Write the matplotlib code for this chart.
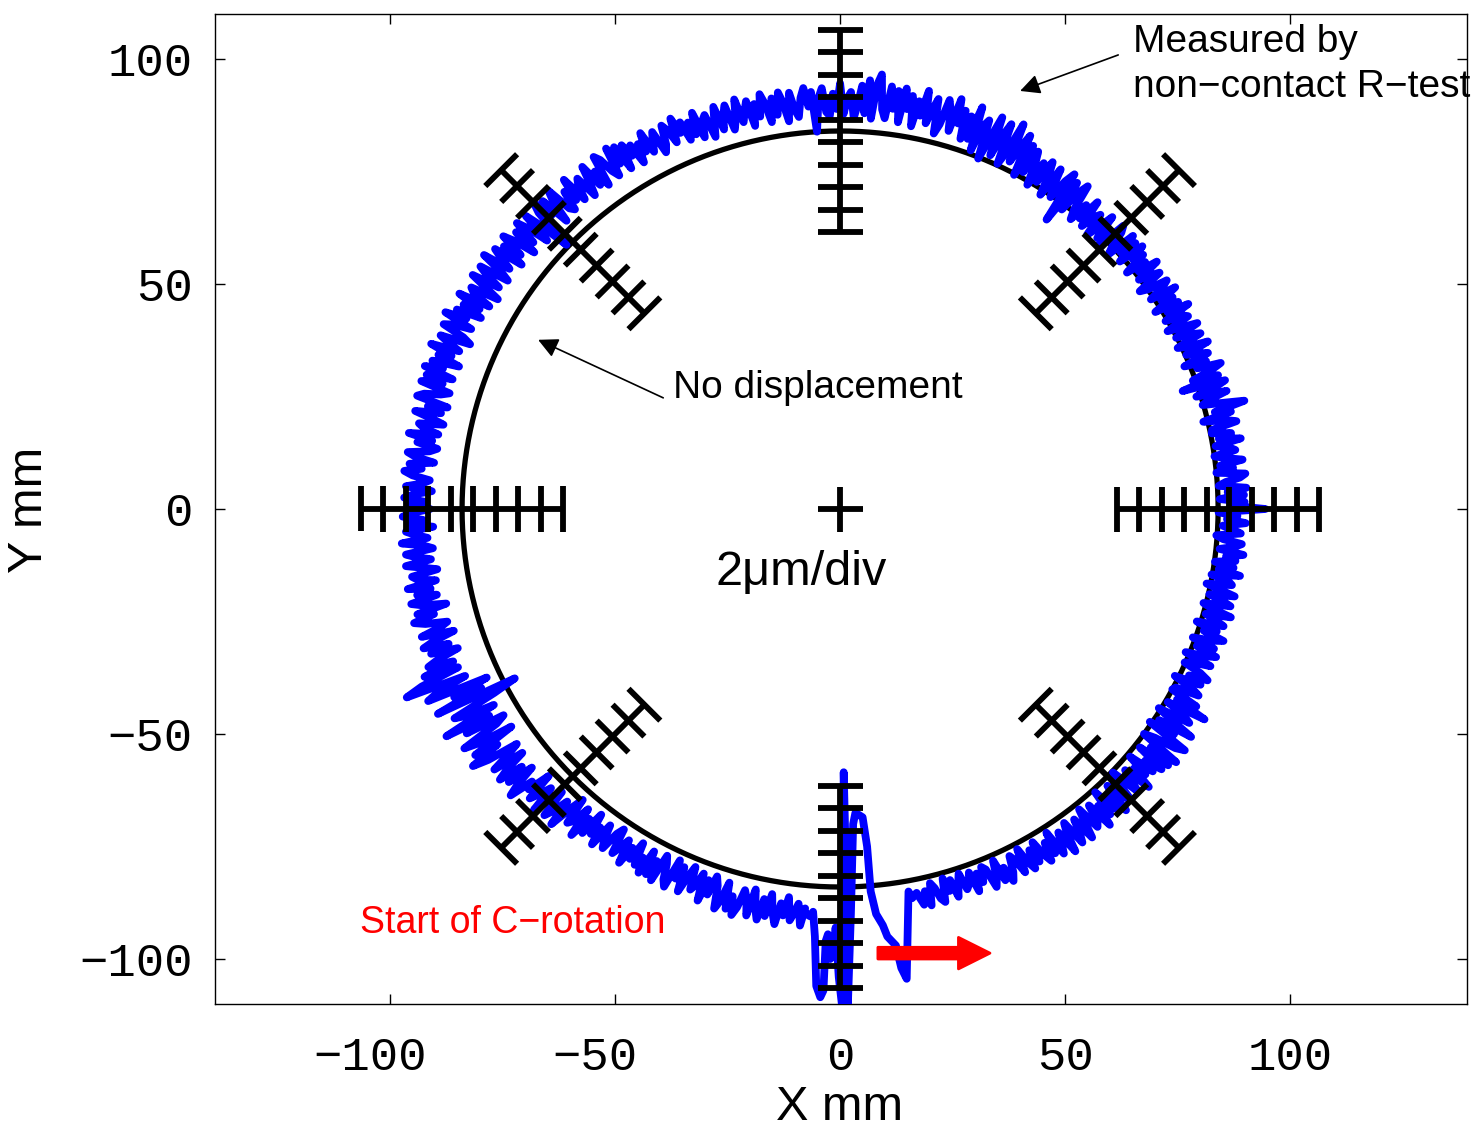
import numpy as np
import matplotlib
matplotlib.use('Agg')
import matplotlib.pyplot as plt
from matplotlib.transforms import ScaledTranslation

# nominal path radius (mm) and plot magnification of the deviations
r_nominal = 84.0
mm_per_um = 2.5          # 2 um/div, one div drawn as 5 mm

# measured radius minus nominal (plot mm), every 0.5 deg from -78 to 265 deg
dev_start = -78.0
dev_step = 0.5
dev = [
    5.9, 3.0, 6.4, 1.5, 2.8, 5.4, 6.4, 1.2, 4.3, 2.0, 6.1, 3.3, 1.2, 5.1, 4.1, 1.7, 6.4, 2.5, 4.8, 1.5,
    2.4, 6.9, 5.1, 1.2, 6.3, 3.6, 7.2, 5.4, 1.8, 3.3, 6.6, 1.2, 4.8, 6.9, 2.7, 6.0, 1.5, 5.1, 7.2, 3.0,
    6.2, 1.3, 7.3, 5.2, 2.7, 8.3, 3.8, 1.7, 7.6, 5.5, 2.4, 8.0, 4.5, 1.3, 6.9, 5.9, 2.0, 8.3, 3.4, 6.6,
    0.7, 6.3, 3.5, 8.3, 1.5, 5.5, 7.5, 2.3, 0.3, 7.1, 4.7, 1.9, 8.3, 3.1, 5.9, 0.7, 6.7, 3.9, 7.9, 1.1,
    8.5, 3.0, 9.5, 0.0, 2.5, 7.5, 9.5, -0.5, 5.5, 1.0, 9.0, 3.5, -0.5, 7.0, 5.0, 0.5, 9.5, 2.0, 6.5, 0.0,
    0.5, 5.8, 3.7, -0.9, 5.1, 1.9, 6.1, 4.0, -0.2, 1.6, 5.4, -0.9, 3.3, 5.8, 0.9, 4.7, -0.6, 3.7, 6.1, 1.2,
    4.0, -0.9, 5.1, 3.0, 0.5, 6.1, 1.6, -0.6, 5.4, 3.3, 0.2, 5.8, 2.3, -0.9, 4.7, 3.7, -0.2, 6.1, 1.2, 4.4,
    0.1, 4.6, 2.4, 6.2, 0.8, 4.0, 5.6, 1.4, -0.2, 5.2, 3.3, 1.1, 6.2, 2.0, 4.3, 0.1, 10.5, 2.7, 5.9, 0.4,
    5.8, 2.2, 6.4, 0.3, 1.9, 5.1, 6.4, 0.0, 3.8, 1.0, 6.1, 2.6, 0.0, 4.8, 3.5, 0.6, 6.4, 1.6, 4.5, 0.3,
    0.5, 6.2, 3.9, -1.0, 5.5, 2.0, 9.0, 4.3, -0.2, 1.7, 5.8, -1.0, 3.6, 6.2, -3.5, 5.1, -0.6, 3.9, 6.6, 1.3,
    3.7, -1.2, 4.8, 2.7, 0.2, 5.8, 1.3, -0.9, 5.1, 3.0, -0.2, 5.5, 2.0, -1.2, 4.4, 3.4, -0.5, 5.8, 0.9, 4.1,
    -1.4, 3.6, 1.1, 5.3, -0.7, 2.9, 4.6, 0.1, -1.7, 4.3, 2.2, -0.3, 5.3, 0.8, 3.2, -1.4, 3.9, 1.5, 5.0, -1.0,
    4.3, 0.5, 5.0, -1.7, 0.1, 3.6, 5.0, -2.0, 2.2, -1.0, 4.7, 0.8, -2.0, 3.3, 1.9, -1.3, 5.0, -0.3, 2.9, -1.7,
    0.4, 6.4, 4.0, -1.2, 5.6, -5.0, 6.8, 4.4, -0.4, 1.6, 6.0, -1.2, 3.6, 6.4, 0.8, 5.2, -0.8, 4.0, 6.8, 1.2,
    7.4, -0.3, 9.1, 5.8, 1.9, 10.7, 3.6, 0.3, 9.6, 6.3, 1.4, 10.2, 4.7, -0.3, 8.5, 6.9, 0.8, 10.7, 3.0, 8.0,
    2.5, 8.8, 5.6, 11.0, 3.4, 7.9, 10.1, 4.3, 2.0, 9.7, 7.0, 3.8, 11.0, 5.2, 8.3, 2.5, 9.2, 6.1, 10.6, 2.9,
    9.8, 5.7, 10.6, 3.4, 5.3, 13.0, 10.6, 3.0, 11.5, 4.1, 10.2, 6.0, 3.0, 8.7, 7.2, 3.8, 10.6, 4.9, 8.3, 3.4,
    4.3, 9.6, 7.5, 0.0, 8.9, 5.7, 9.9, 7.8, 3.6, 5.4, 9.2, 2.9, 7.1, 9.6, 4.7, 8.5, 3.3, 7.5, 9.9, 5.0,
    8.0, 3.2, 9.0, 6.9, 4.6, 10.0, 5.6, 3.5, 9.3, 7.3, 4.2, 9.7, 6.3, 3.2, 8.6, 7.6, 3.9, 10.0, 5.2, 8.3,
    4.5, 9.0, 6.8, 10.6, 5.2, 8.4, 10.0, 5.8, 4.2, 9.6, 7.7, 5.5, 10.6, 6.4, 8.7, 4.5, 9.3, 7.1, 10.3, 4.8,
    10.8, 7.0, 11.5, 4.9, 6.6, 10.1, 11.5, 4.5, 8.7, 5.6, 11.2, 7.3, 4.5, 9.8, 8.4, 5.2, 11.5, 6.3, 9.4, 4.9,
    5.9, 11.9, 9.5, 4.3, 11.1, 7.5, 12.3, 9.9, 0.5, 7.1, 11.5, 4.3, 9.1, 11.9, 6.3, 10.7, 4.7, 9.5, 12.3, 6.7,
    10.8, 5.2, 12.0, 9.6, 6.8, 13.2, 8.0, 5.6, 12.4, 10.0, 6.4, 12.8, 8.8, 5.2, 11.6, 10.4, 6.0, 13.2, 7.6, 11.2,
    6.4, 12.0, 9.2, 14.0, 7.2, 11.2, 13.2, 8.0, 6.0, 12.8, 10.4, 7.6, 14.0, 8.8, 11.6, 6.4, 12.4, 9.6, 13.6, 6.8,
    12.6, 8.6, 13.3, 6.5, 8.3, 11.9, 13.3, 6.1, 10.4, 7.2, 12.9, 9.0, 6.1, 11.5, 10.1, 6.8, 13.3, 7.9, 11.1, 6.5,
    8.1, 12.9, 11.0, 6.8, 12.2, 9.4, 13.2, 11.3, 7.4, 9.0, 12.6, 6.8, 10.6, 12.9, 8.4, 11.9, 7.1, 11.0, 13.2, 8.7,
    11.5, 6.5, 12.6, 10.5, 7.9, 13.7, 9.0, 6.9, 13.0, 10.8, 7.6, 13.3, 9.7, 6.5, 12.3, 11.2, 7.2, 13.7, 8.7, 11.9,
    7.6, 13.6, 11.2, 6.0, 12.8, 9.2, 14.0, 11.6, 6.8, 8.8, 13.2, 6.0, 10.8, 13.6, 8.0, 12.4, 6.4, 11.2, 14.0, 8.4,
    15.6, 7.9, 17.0, 21.0, 7.2, 14.2, 17.0, 3.0, 11.4, 5.1, 16.3, -2.5, 3.0, 13.5, 10.7, 4.4, 17.0, 6.5, 12.8, 3.7,
    6.0, 15.0, 11.4, 3.6, 13.8, 8.4, 15.6, 12.0, 4.8, 7.8, 12.2, 5.0, 9.8, 12.6, 7.0, 11.4, 5.4, 10.2, 13.0, 7.4,
    9.1, 3.8, 10.3, 8.0, 5.3, 11.4, 6.5, 4.2, 10.6, 8.4, 4.9, 11.0, 5.7, 2.3, 8.4, 7.2, 3.1, 9.9, 4.6, 8.0,
    2.2, 7.0, 4.6, 8.7, 2.9, 6.3, 8.0, 3.6, 1.9, 7.7, 5.6, 3.3, 8.7, 4.3, 6.7, 2.2, 7.3, 5.0, 8.4, 2.6,
    7.9, 4.2, 8.6, 2.1, 3.8, 7.2, 8.6, 1.8, 5.9, 2.8, 8.3, 4.5, 1.8, 6.9, 5.5, 2.5, 8.6, 3.5, 6.6, 2.1,
    4.0, 9.1, 7.0, 2.6, 8.4, 5.3, 9.4, 7.4, 3.3, 5.0, 8.7, 2.6, 6.7, 9.1, 4.3, 8.0, 2.9, 7.0, 9.4, 4.6,
    7.2, 3.0, 8.1, 6.3, 4.2, 9.0, 5.1,
]

# transient at the start of the C-rotation (x, y in mm)
start_x = [-7.8, -6.7, -6.0, -5.6, -5.3, -4.4, -3.7, -3.2, -2.7, -2.2, -1.6, -1.0,
           -0.3, 0.5, 0.8, 1.2, 1.7, 2.4, 2.9, 3.4, 5.0, 6.0, 6.8, 8.0, 9.5, 10.5,
           12.4, 13.6, 14.8, 15.2, 16.0, 17.0]
start_y = [-89.7, -90.5, -89.5, -95.0, -106.0, -108.5, -107.0, -96.0, -94.5, -100.0,
           -99.0, -93.0, -104.0, -111.0, -58.5, -75.0, -111.0, -90.0, -70.0, -67.5,
           -68.5, -75.0, -85.0, -90.0, -92.5, -95.0, -97.0, -102.0, -104.4, -85.0,
           -86.5, -85.3]

# 2 um/div scale bars
bar_angles = [0, 45, 90, 135, 180, 225, 270, 315]
bar_um = [-9, -7, -5, -3, -1, 1, 3, 5, 7, 9]
tick_half = 5.0

xticks = [-100, -50, 0, 50, 100]
yticks = [-100, -50, 0, 50, 100]

fig = plt.figure(figsize=(14.77, 11.30), dpi=100)
ax = fig.add_axes([215 / 1477, 1 - 1004 / 1130, 1252 / 1477, 990 / 1130])

# no-displacement circle
t = np.linspace(0, 2 * np.pi, 721)
ax.plot(r_nominal * np.cos(t), r_nominal * np.sin(t), color='black', lw=3.8, zorder=2)

# measured path
ang = np.radians(dev_start + dev_step * np.arange(len(dev)))
rad = r_nominal + np.array(dev)
px = np.concatenate([start_x, rad * np.cos(ang)])
py = np.concatenate([start_y, rad * np.sin(ang)])
ax.plot(px, py, color='#0000ff', lw=5.6, solid_joinstyle='round',
        solid_capstyle='round', zorder=3)

# scale bars
bar_lw = 4.2
for a in np.radians(bar_angles):
    u = np.array([np.cos(a), np.sin(a)])
    n = np.array([-np.sin(a), np.cos(a)])
    r = r_nominal + np.array(bar_um) * mm_per_um
    ax.plot([u[0] * r[0], u[0] * r[-1]], [u[1] * r[0], u[1] * r[-1]],
            color='black', lw=bar_lw, solid_capstyle='butt', zorder=4)
    for ri in r:
        c = u * ri
        ax.plot([c[0] - n[0] * tick_half, c[0] + n[0] * tick_half],
                [c[1] - n[1] * tick_half, c[1] + n[1] * tick_half],
                color='black', lw=bar_lw, solid_capstyle='butt', zorder=4)
ax.plot([-tick_half, tick_half], [0, 0], color='black', lw=bar_lw, solid_capstyle='butt', zorder=4)
ax.plot([0, 0], [-tick_half, tick_half], color='black', lw=bar_lw, solid_capstyle='butt', zorder=4)

# annotations
sans = 'Liberation Sans'
ax.text(65.1, 101.6, 'Measured by', fontsize=28, family=sans, va='baseline')
ax.text(65.1, 91.6, 'non\u2212contact R\u2212test', fontsize=28, family=sans, va='baseline')
ax.annotate('', xy=(40.0, 92.9), xytext=(61.8, 100.9),
            arrowprops=dict(arrowstyle='-|>', color='black', lw=1.2,
                            mutation_scale=30, shrinkA=0, shrinkB=0))
ax.text(-37.1, 24.7, 'No displacement', fontsize=28, family=sans, va='baseline')
ax.annotate('', xy=(-67.1, 37.6), xytext=(-39.3, 24.7),
            arrowprops=dict(arrowstyle='-|>', color='black', lw=1.2,
                            mutation_scale=30, shrinkA=0, shrinkB=0))
ax.text(-27.6, -16.9, '2\u03bcm/div', fontsize=35, family=sans, va='baseline')
ax.text(-106.7, -94.2, 'Start of C\u2212rotation', fontsize=27, family=sans,
        va='baseline', color='#ff0000')
ax.arrow(8.4, -98.7, 24.9, 0, width=2.6, head_width=7.0, head_length=7.0,
         length_includes_head=True, fc='#ff0000', ec='#ff0000', lw=2,
         joinstyle='round', capstyle='round', zorder=5)

ax.set_xlim(-138.9, 139.3)
ax.set_ylim(-110, 110)
ax.set_xticks(xticks)
ax.set_yticks(yticks)
ax.tick_params(direction='in', length=7, width=1, top=True, right=True,
               labelsize=34)
ax.tick_params(axis='x', pad=23)
ax.tick_params(axis='y', pad=16)
for lab in ax.get_xticklabels() + ax.get_yticklabels():
    lab.set_family('Liberation Mono')
for s in ax.spines.values():
    s.set_linewidth(1.0)

fig.text(840 / 1477, 1 - 1107 / 1130, 'X mm', fontsize=35, family=sans,
         ha='center', va='center')
fig.text(30 / 1477, 1 - 510 / 1130, 'Y mm', fontsize=35, family=sans,
         rotation=90, ha='center', va='center')

fig.canvas.draw()
shift = ScaledTranslation(-20 / 100, 0, fig.dpi_scale_trans)
for tk in ax.xaxis.get_major_ticks():
    if tk.label1.get_text().startswith('\u2212'):
        tk.label1.set_transform(tk.label1.get_transform() + shift)

fig.savefig('out.png', dpi=100)
